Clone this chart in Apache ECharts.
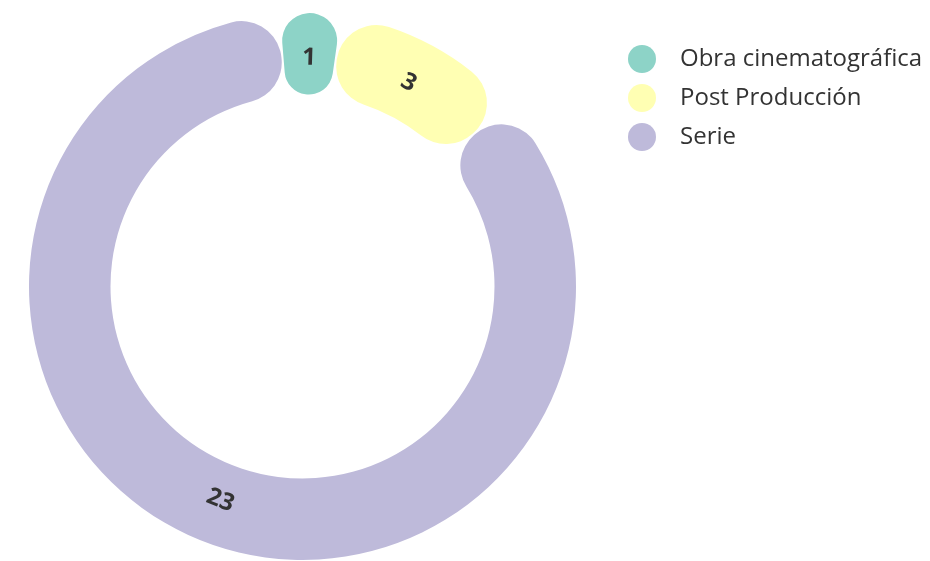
<!DOCTYPE html>
<html>
<head>
<meta charset="utf-8">
<script src="https://cdn.jsdelivr.net/npm/echarts@6/dist/echarts.min.js"></script>
<style>
  html, body { margin: 0; padding: 0; background: #fff; }
  #chart { width: 930px; height: 561px; }
</style>
</head>
<body>
<div id="chart"></div>
<script>
const categories = ['Obra cinematográfica', 'Post Producción', 'Serie'];
const values = [1, 3, 23];
const colors = ['#8dd3c7', '#ffffb3', '#bebada'];

const chart = echarts.init(document.getElementById('chart'));

const center = [302.5, 286.5];

const pieData = categories.map((name, i) => ({
  name,
  value: values[i],
  itemStyle: { color: colors[i] },
}));

chart.setOption({
  animation: false,
  textStyle: { fontFamily: 'Open Sans' },
  legend: {
    orient: 'vertical',
    left: 623,
    top: 40,
    icon: 'circle',
    itemWidth: 28,
    itemHeight: 28,
    itemGap: 11,
    textStyle: {
      fontSize: 24,
      color: '#333',
      fontFamily: 'Open Sans',
      padding: [0, 0, 0, 19],
    },
    data: categories,
  },
  series: [
    {
      type: 'pie',
      center: center,
      radius: [192, 273.5],
      startAngle: 95,
      padAngle: 0.5,
      itemStyle: {
        borderRadius: 40,
      },
      label: {
        position: 'inside',
        rotate: 'tangential',
        formatter: '{c}',
        fontSize: 24,
        fontWeight: 'bold',
        color: '#333',
        fontFamily: 'Open Sans',
      },
      // pull the labels a little towards the middle of the ring
      labelLayout(p) {
        const r = p.labelRect;
        const mx = r.x + r.width / 2 - center[0];
        const my = r.y + r.height / 2 - center[1];
        const d = Math.hypot(mx, my) || 1;
        return { dx: -mx / d * 7, dy: -my / d * 7 };
      },
      labelLine: { show: false },
      data: pieData,
    },
  ],
});
</script>
</body>
</html>
